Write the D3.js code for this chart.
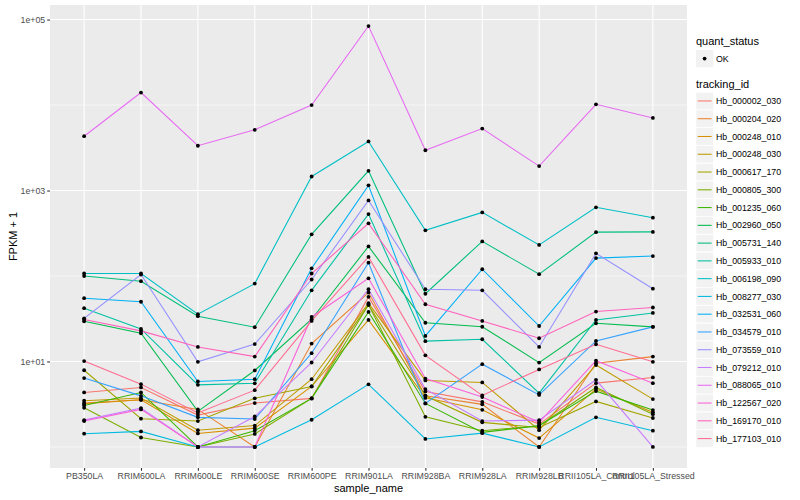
<!DOCTYPE html>
<html><head><meta charset="utf-8">
<script src="https://cdn.jsdelivr.net/npm/d3@7"></script>
<style>body{margin:0;background:#fff}svg{display:block}text{font-family:"Liberation Sans",Arial,sans-serif}</style>
</head><body><svg id="c" width="800" height="500"></svg>
<script>
const samples = ["PB350LA","RRIM600LA","RRIM600LE","RRIM600SE","RRIM600PE","RRIM901LA","RRIM928BA","RRIM928LA","RRIM928LB","RRII105LA_Control","RRII105LA_Stressed"];
const trackingIds = ["Hb_000002_030","Hb_000204_020","Hb_000248_010","Hb_000248_030","Hb_000617_170","Hb_000805_300","Hb_001235_060","Hb_002960_050","Hb_005731_140","Hb_005933_010","Hb_006198_090","Hb_008277_030","Hb_032531_060","Hb_034579_010","Hb_073559_010","Hb_079212_010","Hb_088065_010","Hb_122567_020","Hb_169170_010","Hb_177103_010"];
// FPKM + 1 per sample, one array per tracking_id
const v000002_030 = [4.34, 4.97, 2.36, 3.26, 3.7, 57, 4.46, 3.37, 1.85, 5.58, 6.5];
const v000204_020 = [3.26, 3.56, 2.75, 1.0, 16.2, 64, 3.97, 3.15, 1.0, 9.55, 11.4];
const v000248_010 = [3.2, 3.56, 1.44, 1.66, 5.1, 30.6, 3.75, 2.72, 1.27, 4.75, 2.54];
const v000248_030 = [3.47, 3.73, 1.57, 1.78, 6.2, 48, 6.0, 5.69, 1.57, 9.1, 3.63];
const v000617_170 = [7.9, 2.14, 2.01, 3.71, 5.1, 46, 3.97, 1.94, 1.69, 3.41, 2.18];
const v000805_300 = [2.87, 1.29, 1.0, 1.42, 3.7, 46, 2.25, 1.55, 1.77, 4.97, 2.42];
const v001235_060 = [3.06, 4.34, 1.0, 1.55, 3.7, 38, 3.23, 1.48, 1.77, 4.5, 2.7];
const v002960_050 = [29.5, 21.4, 2.61, 7.85, 31.2, 222, 28.4, 25.5, 9.7, 28, 25.4];
const v005731_140 = [100, 87, 33.9, 25.2, 307, 1700, 62, 254, 105, 326, 328];
const v005933_010 = [42, 24, 5.33, 5.55, 68, 530, 17.3, 18.2, 4.26, 30.6, 37];
const v006198_090 = [107, 107, 35.7, 81.5, 1460, 3750, 342, 555, 231, 636, 481];
const v008277_030 = [1.43, 1.52, 1.0, 1.0, 2.08, 5.4, 1.24, 1.45, 1.0, 2.22, 1.55];
const v032531_060 = [55, 50, 5.84, 6.21, 123, 1150, 19.9, 120, 26, 162, 171];
const v034579_010 = [6.4, 3.96, 2.22, 2.12, 12.5, 143, 3.23, 9.3, 4.06, 17.4, 25.4];
const v073559_010 = [32, 104, 9.9, 16, 91, 766, 70, 68, 14.8, 184, 71];
const v079212_010 = [2.06, 2.85, 1.0, 2.27, 9.73, 70, 4.75, 2.01, 2.06, 6.1, 1.0];
const v088065_010 = [4320, 14000, 3340, 5130, 10000, 84000, 2960, 5300, 1930, 10200, 7070];
const v122567_020 = [2.01, 2.75, 1.0, 1.0, 33.2, 94, 6.3, 3.83, 1.94, 10.2, 5.58];
const v169170_010 = [31, 22.8, 14.8, 11.4, 107, 413, 46.7, 29.8, 18.7, 38.4, 42.8];
const v177103_010 = [10.1, 5.43, 2.5, 4.62, 29.8, 167, 11.8, 4.0, 8.07, 15.9, 9.9];
const yTickValues = [1e1, 1e3, 1e5];
const yTickLabels = ["1e+01", "1e+03", "1e+05"];
const colors = ["#F8766D","#EA8331","#D89000","#C09B00","#A3A500","#7CAE00","#39B600","#00BB4E","#00BF7D","#00C1A3","#00BFC4","#00BAE0","#00B0F6","#35A2FF","#9590FF","#C77CFF","#E76BF3","#FA62DB","#FF62BC","#FF6C91"];

const allValues = [v000002_030,v000204_020,v000248_010,v000248_030,v000617_170,v000805_300,v001235_060,v002960_050,v005731_140,v005933_010,v006198_090,v008277_030,v032531_060,v034579_010,v073559_010,v079212_010,v088065_010,v122567_020,v169170_010,v177103_010];
const series = trackingIds.map((id,i)=>({id, color: colors[i], values: allValues[i].map((v,j)=>({s: samples[j], v}))}));

const svg = d3.select("#c");
const P = {l:50, r:687, t:5, b:468};
const x = d3.scalePoint().domain(samples).range([P.l, P.r]).padding(0.6);
const lmin = 0, lmax = Math.log10(d3.max(allValues.flat()));
const ex = (lmax - lmin) * 0.05;
const y = d3.scaleLog().domain([Math.pow(10, lmin - ex), Math.pow(10, lmax + ex)]).range([P.b, P.t]);

svg.append("rect").attr("x",P.l).attr("y",P.t).attr("width",P.r-P.l).attr("height",P.b-P.t).attr("fill","#EBEBEB");
const g = svg.append("g");
// minor gridlines
[1e0,1e2,1e4].forEach(v=>g.append("line").attr("x1",P.l).attr("x2",P.r).attr("y1",y(v)).attr("y2",y(v)).attr("stroke","#fff").attr("stroke-width",0.55));
yTickValues.forEach(v=>g.append("line").attr("x1",P.l).attr("x2",P.r).attr("y1",y(v)).attr("y2",y(v)).attr("stroke","#fff").attr("stroke-width",1.1));
samples.forEach(s=>g.append("line").attr("x1",x(s)).attr("x2",x(s)).attr("y1",P.t).attr("y2",P.b).attr("stroke","#fff").attr("stroke-width",1.1));

svg.append("clipPath").attr("id","clip").append("rect").attr("x",P.l).attr("y",P.t).attr("width",P.r-P.l).attr("height",P.b-P.t);
const line = d3.line().x(d=>x(d.s)).y(d=>y(d.v));
const lg = svg.append("g").attr("clip-path","url(#clip)");
series.forEach(s=>lg.append("path").attr("d",line(s.values)).attr("fill","none").attr("stroke",s.color).attr("stroke-width",1.07));
series.forEach(s=>s.values.forEach(d=>lg.append("circle").attr("cx",x(d.s)).attr("cy",y(d.v)).attr("r",1.9).attr("fill","#000")));

// axes
const yAxis = d3.axisLeft(y).tickValues(yTickValues).tickFormat((d,i)=>yTickLabels[i]).tickSize(2.8).tickPadding(2);
const ya = svg.append("g").attr("transform",`translate(${P.l},0)`).call(yAxis);
const xAxis = d3.axisBottom(x).tickSize(2.8).tickPadding(2);
const xa = svg.append("g").attr("transform",`translate(0,${P.b})`).call(xAxis);
[ya,xa].forEach(a=>{a.select(".domain").remove();a.selectAll(".tick line").attr("stroke","#333").attr("stroke-width",1.07);a.selectAll(".tick text").attr("fill","#4D4D4D").attr("font-size",8.8).attr("font-family","Liberation Sans, Arial, sans-serif");});

svg.append("text").attr("x",(P.l+P.r)/2).attr("y",492).attr("text-anchor","middle").attr("font-size",11).attr("fill","#000").text("sample_name");
svg.append("text").attr("transform",`translate(17,${(P.t+P.b)/2}) rotate(-90)`).attr("text-anchor","middle").attr("font-size",11).attr("fill","#000").text("FPKM + 1");

// legend
const L = svg.append("g");
L.append("text").attr("x",696).attr("y",45).attr("font-size",11).text("quant_status");
L.append("rect").attr("x",696).attr("y",50).attr("width",17.3).attr("height",17.3).attr("fill","#F2F2F2");
L.append("circle").attr("cx",704.6).attr("cy",58.6).attr("r",1.9).attr("fill","#000");
L.append("text").attr("x",716).attr("y",61.8).attr("font-size",8.8).attr("fill","#000").text("OK");
L.append("text").attr("x",696).attr("y",87.5).attr("font-size",11).text("tracking_id");
series.forEach((s,i)=>{
  const ky = 92.3 + i*17.77;
  L.append("rect").attr("x",696).attr("y",ky).attr("width",17.3).attr("height",17.3).attr("fill","#F2F2F2").attr("stroke","#fff").attr("stroke-width",0.5);
  L.append("line").attr("x1",697.7).attr("x2",711.6).attr("y1",ky+8.65).attr("y2",ky+8.65).attr("stroke",s.color).attr("stroke-width",1.07);
  L.append("text").attr("x",716).attr("y",ky+11.8).attr("font-size",8.8).attr("fill","#000").text(s.id);
});
</script></body></html>
